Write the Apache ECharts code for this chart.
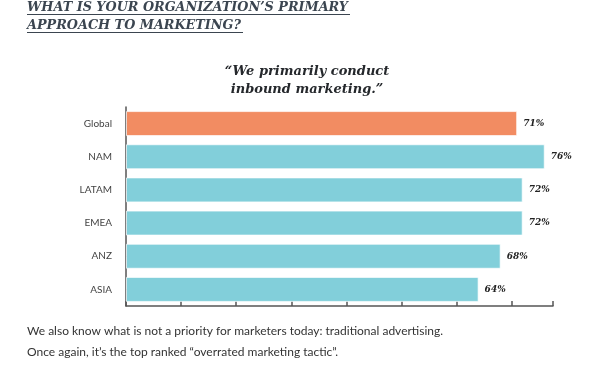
<!DOCTYPE html>
<html><head><meta charset="utf-8">
<script src="https://cdn.jsdelivr.net/npm/echarts@6/dist/echarts.min.js"></script>
<style>html,body{margin:0;padding:0;background:#fff}#c{width:600px;height:367px}</style>
</head><body><div id="c"></div>
<script>
const categories = ['Global', 'NAM', 'LATAM', 'EMEA', 'ANZ', 'ASIA'];
const values = [71, 76, 72, 72, 68, 64];
const barColors = ['#F28C62', '#82CFDA', '#82CFDA', '#82CFDA', '#82CFDA', '#82CFDA'];
const titleLines = ['WHAT IS YOUR ORGANIZATION\u2019S PRIMARY', 'APPROACH TO MARKETING?'];
const subtitleText = '\u201CWe primarily conduct\ninbound marketing.\u201D';
const footerText = 'We also know what is not a priority for marketers today: traditional advertising.\nOnce again, it\u2019s the top ranked \u201Coverrated marketing tactic\u201D.';

const chart = echarts.init(document.getElementById('c'));
const serif = '"DejaVu Serif", serif';
const titleStyle = {fontFamily: serif, fontStyle: 'italic', fontWeight: 'bold', fontSize: 12.8, lineHeight: 14, color: '#3b4550'};
chart.setOption({
  animation: false,
  title: [
    {text: titleLines[0], left: 27, top: 1, padding: 0, textStyle: titleStyle},
    {text: titleLines[1], left: 27, top: 19, padding: 0, textStyle: titleStyle},
    {text: subtitleText, left: 307, top: 63, padding: 0, textAlign: 'center',
     textStyle: {fontFamily: serif, fontStyle: 'italic', fontWeight: 'bold', fontSize: 13, lineHeight: 18, color: '#25282c'}},
    {text: footerText, left: 27, top: 321, padding: 0,
     textStyle: {fontFamily: 'Lato, sans-serif', fontWeight: 'normal', fontSize: 12, lineHeight: 21, color: '#333'}}
  ],
  graphic: [
    {type: 'line', shape: {x1: 27, y1: 14.5, x2: 350, y2: 14.5}, style: {stroke: '#3b4550', lineWidth: 1}},
    {type: 'line', shape: {x1: 27, y1: 32.5, x2: 243, y2: 32.5}, style: {stroke: '#3b4550', lineWidth: 1}}
  ],
  grid: {left: 126, right: 47, top: 107, bottom: 61, containLabel: false},
  xAxis: {
    type: 'value', min: 0, max: 77.5, interval: 10,
    axisLine: {show: true, lineStyle: {color: '#555', width: 1.5}},
    axisTick: {show: true, inside: true, length: 5, lineStyle: {color: '#555', width: 1.5}},
    axisLabel: {show: false},
    splitLine: {show: false}
  },
  yAxis: {
    type: 'category', inverse: true, data: categories,
    axisLine: {show: true, lineStyle: {color: '#555', width: 1.5}},
    axisTick: {show: true, inside: true, alignWithLabel: true, length: 3, lineStyle: {color: '#555'}},
    axisLabel: {color: '#444', fontFamily: 'Lato, sans-serif', fontSize: 10, margin: 14}
  },
  series: [{
    type: 'bar', barWidth: 25,
    data: values.map((v, i) => ({value: v, itemStyle: {color: barColors[i]}})),
    itemStyle: {borderColor: 'rgba(255,255,255,0.7)', borderWidth: 1},
    label: {show: true, position: 'right', distance: 6, formatter: '{c}%',
      fontFamily: serif, fontStyle: 'italic', fontWeight: 'bold', fontSize: 9, color: '#222'}
  }]
});
</script></body></html>
